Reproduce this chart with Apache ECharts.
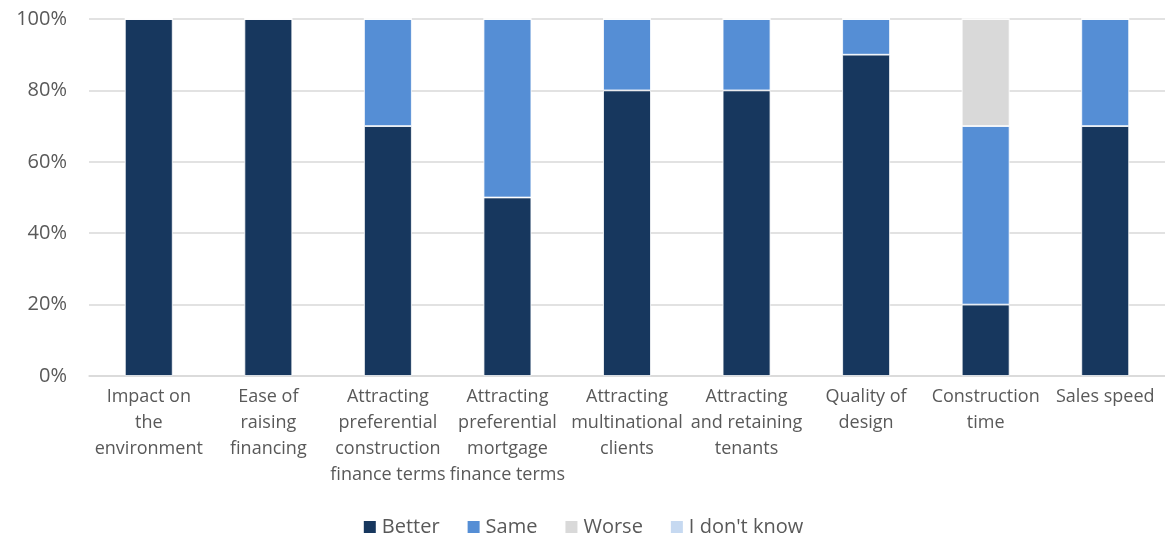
<!DOCTYPE html>
<html><head><meta charset="utf-8">
<script src="https://cdn.jsdelivr.net/npm/echarts@6/dist/echarts.min.js"></script>
<style>html,body{margin:0;padding:0;background:#fff}#c{width:1165px;height:535px}</style>
</head><body><div id="c"></div>
<script>
const categories = ["Impact on\nthe\nenvironment","Ease of\nraising\nfinancing","Attracting\npreferential\nconstruction\nfinance terms","Attracting\npreferential\nmortgage\nfinance terms","Attracting\nmultinational\nclients","Attracting\nand retaining\ntenants","Quality of\ndesign","Construction\ntime","Sales speed"];
const better = [100,100,70,50,80,80,90,20,70];
const same = [0,0,30,50,20,20,10,50,30];
const worse = [0,0,0,0,0,0,0,30,0];
const dontKnow = [0,0,0,0,0,0,0,0,0];
const yTicks = [0,20,40,60,80,100];
const font = "'Open Sans', sans-serif";
const chart = echarts.init(document.getElementById('c'));
function s(name, data, color){
  return {name, type:'bar', stack:'t', data, barWidth:'40%',
    itemStyle:{color, borderColor:'#fff', borderWidth:0.8}};
}
chart.setOption({
  animation:false,
  textStyle:{fontFamily:font},
  grid:{left:89,right:0,top:19,bottom:159},
  legend:{top:512,left:'center',itemWidth:14,itemHeight:14,itemGap:26,icon:'rect',
    textStyle:{fontSize:20,color:'#595959',fontFamily:font,padding:[0,0,0,0]},
    data:['Better','Same','Worse',"I don't know"]},
  xAxis:{type:'category',data:categories,
    axisLine:{lineStyle:{color:'#D9D9D9',width:1.5}},axisTick:{show:false},
    axisLabel:{interval:0,fontSize:18,color:'#595959',lineHeight:26,margin:8,fontFamily:font}},
  yAxis:{type:'value',min:0,max:100,interval:20,
    axisLabel:{formatter:v=>yTicks.includes(v)?v+'%':'',fontSize:20,color:'#595959',margin:22,fontFamily:font},
    splitLine:{lineStyle:{color:'#D9D9D9',width:1.5}},axisLine:{show:false},axisTick:{show:false}},
  series:[s('Better',better,'#17375E'),s('Same',same,'#558ED5'),s('Worse',worse,'#D9D9D9'),s("I don't know",dontKnow,'#C6D9F1')]
});
</script></body></html>
